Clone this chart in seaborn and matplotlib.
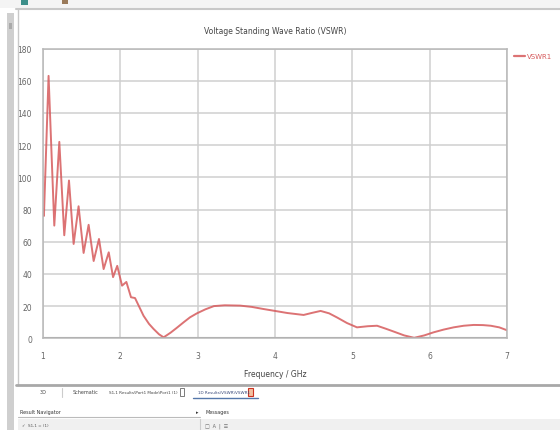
import matplotlib
matplotlib.use("Agg")
import matplotlib.pyplot as plt
import seaborn as sns
import pandas as pd
from matplotlib.lines import Line2D
from matplotlib.patches import Rectangle

# ---- data ----
freq = [1.0, 1.012, 1.072, 1.146, 1.211, 1.275, 1.336, 1.396, 1.46, 1.525,
        1.59, 1.655, 1.724, 1.784, 1.85, 1.906, 1.96, 2.022, 2.078, 2.138,
        2.19, 2.24, 2.30, 2.37, 2.43, 2.5, 2.56, 2.65, 2.73, 2.82,
        2.9, 2.99, 3.1, 3.21, 3.35, 3.55, 3.7, 3.85, 4.0, 4.16,
        4.37, 4.48, 4.59, 4.7, 4.8, 4.93, 5.06, 5.2, 5.32, 5.43,
        5.54, 5.67, 5.8, 5.93, 6.05, 6.18, 6.31, 6.44, 6.57, 6.69,
        6.79, 6.9, 7.0]
vswr = [80, 76, 163, 70, 122, 64, 98, 58.6, 82, 53,
        70.5, 48, 61.7, 43, 53.4, 38, 45, 32.7, 35, 25.5,
        25, 20, 14, 9, 5.8, 2.5, 0.6, 3.5, 6.5, 10,
        13, 15.5, 18, 20, 20.5, 20.3, 19.5, 18.2, 17, 15.7,
        14.5, 15.8, 17, 15.5, 13, 9.5, 6.8, 7.5, 7.8, 6,
        4.1, 1.8, 0.3, 1.8, 3.7, 5.4, 6.8, 7.8, 8.3, 8.2,
        7.8, 6.8, 5]
series_name = "VSWR1"
x_ticks = [1, 2, 3, 4, 5, 6, 7]
y_ticks = [0, 20, 40, 60, 80, 100, 120, 140, 160, 180]
title = "Voltage Standing Wave Ratio (VSWR)"
x_label = "Frequency / GHz"

df = pd.DataFrame({"Frequency": freq, "VSWR": vswr})

sns.set_theme(style="white")
plt.rcParams['font.family'] = ['DejaVu Sans']

W, H = 560, 431
fig = plt.figure(figsize=(W / 100, H / 100), dpi=100)
fig.patch.set_facecolor("white")

def fx(px):
    return px / W

def fy(py):
    return 1 - py / H

ax = fig.add_axes([fx(43), fy(339.3), fx(507) - fx(43), fy(49.5) - fy(339.3)])
red = "#d65a5c"
sns.lineplot(data=df, x="Frequency", y="VSWR", ax=ax, color=red,
             linewidth=1.4, alpha=0.85, label=series_name)

ax.set_xlim(1, 7)
ax.set_ylim(0, 180)
ax.set_xticks(x_ticks)
ax.set_yticks(y_ticks)
ax.set_xticklabels([str(t) for t in x_ticks])
ax.set_yticklabels([str(t) for t in y_ticks])
ax.set_xlabel("")
ax.set_ylabel("")
ax.grid(True, color="#cfcfcf", linewidth=1.1)
ax.axhline(0, color="#a0a0a0", linewidth=1.5, zorder=1)
for s in ax.spines.values():
    s.set_color("#b8b8b8")
    s.set_linewidth(1.1)
ax.tick_params(axis="both", labelsize=5.5, colors="#666666", length=3,
               width=0.8, direction="out", pad=6)
ax.tick_params(axis="x", length=0, pad=9)
ax.tick_params(axis="y", length=3, pad=5)

leg = ax.legend(loc="upper left", bbox_to_anchor=(1.005, 1.0), frameon=False,
                fontsize=5, handlelength=1.6, handletextpad=0.3,
                labelcolor=red, borderaxespad=0.3)
for h in leg.get_lines():
    h.set_linewidth(1.6)

fig.text(0.5 * (fx(43) + fx(507)), fy(32), title, ha="center", va="center",
         fontsize=5.5, color="#444444")
fig.text(0.5 * (fx(43) + fx(507)), fy(375), x_label, ha="center", va="center",
         fontsize=5.5, color="#444444")

# ---- window chrome around the plot ----
def hline(py, x0, x1, color, lw):
    fig.add_artist(Line2D([fx(x0), fx(x1)], [fy(py), fy(py)], color=color,
                          linewidth=lw, transform=fig.transFigure))

def vline(px, y0, y1, color, lw):
    fig.add_artist(Line2D([fx(px), fx(px)], [fy(y0), fy(y1)], color=color,
                          linewidth=lw, transform=fig.transFigure))

def rect(x0, y0, x1, y1, color):
    fig.add_artist(Rectangle((fx(x0), fy(y1)), fx(x1) - fx(x0), fy(y0) - fy(y1),
                             facecolor=color, edgecolor="none",
                             transform=fig.transFigure))

rect(0, 0, W, 9, "#f4f4f4")
rect(21, 0, 28, 6, "#3d8f8a")
rect(62, 0, 68, 5, "#9a7a5a")
hline(10, 16, W, "#c8c8c8", 1.5)
rect(7, 14, 14, H, "#cfcfcf")
vline(18, 10, 386, "#c8c8c8", 1.0)
rect(9, 24, 12, 30, "#aaaaaa")
hline(386, 16, W, "#a8a8a8", 2.0)

tab_y = fy(393)
fig.text(fx(40), tab_y, "3D", fontsize=3.5, color="#444", va="center")
vline(62, 389, 398, "#cccccc", 0.8)
fig.text(fx(73), tab_y, "Schematic", fontsize=3.5, color="#444", va="center")
fig.text(fx(109), tab_y, "S1,1 Results\\Port1 Mode\\Port1 (1)", fontsize=3,
         color="#444", va="center")
fig.add_artist(Rectangle((fx(180), fy(397)), fx(4), fy(389) - fy(397),
                         facecolor="none", edgecolor="#666", linewidth=0.6,
                         transform=fig.transFigure))
fig.text(fx(198), tab_y, "1D Results\\VSWR\\VSWR1", fontsize=3, color="#3a4a7a",
         va="center")
hline(399, 193, 258, "#5577aa", 1.0)
fig.add_artist(Rectangle((fx(248), fy(397)), fx(5), fy(389) - fy(397),
                         facecolor="#f2c0a0", edgecolor="#cc3322", linewidth=0.8,
                         transform=fig.transFigure))

fig.text(fx(20), fy(413), "Result Navigator", fontsize=3.5, color="#333",
         va="center")
fig.text(fx(196), fy(413), "\u25b8", fontsize=3.5, color="#333", va="center")
fig.text(fx(205), fy(413), "Messages", fontsize=3.5, color="#333", va="center")
hline(418, 18, 200, "#bbbbbb", 0.8)
rect(18, 420, W, H, "#f0f0f0")
fig.text(fx(22), fy(426), "\u2713  S1,1 = (1)", fontsize=3, color="#555",
         va="center")
vline(200, 420, H, "#cccccc", 0.8)
fig.text(fx(205), fy(426), "\u25a1  A  |  \u2630", fontsize=3.5, color="#666",
         va="center")

fig.savefig("out.png", dpi=100, facecolor="white")
